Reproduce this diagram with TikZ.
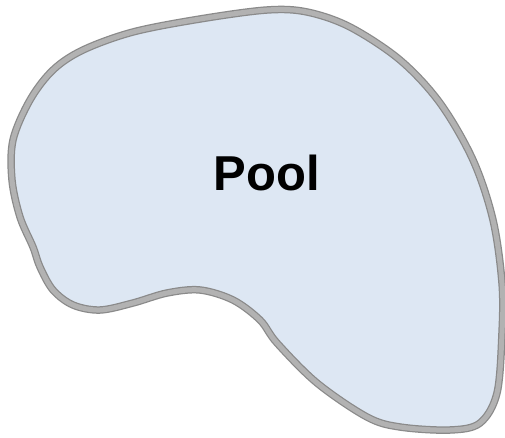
\documentclass[tikz,border=0pt]{standalone}
\usepackage{fontspec}
\setmainfont{Liberation Sans}
\definecolor{poolfill}{HTML}{DDE7F3}
\definecolor{rimdark}{HTML}{8A8A8A}
\definecolor{rimlight}{HTML}{B2B2B2}
\begin{document}
\begin{tikzpicture}[x=1pt,y=-1pt,
  poolshape/.style={smooth cycle, tension=0.55}]
\useasboundingbox[fill=white] (0,0) rectangle (505,438);
\def\poolpath{plot[poolshape] coordinates {
 (83,50) (133,32) (200,19) (267,10) (307,12) (350,27) (400,60) (440,103)
 (473,160) (493,220) (502,283) (502,333) (497,393) (480,423) (450,430)
 (400,427) (367,417) (317,383) (277,343) (260,320) (233,300) (200,290)
 (167,293) (133,303) (100,310) (73,305) (53,290) (40,267) (33,247)
 (20,217) (12,180) (13,140) (30,100) (53,70)}}
\fill[poolfill] \poolpath;
\draw[rimdark, line width=7.5pt] \poolpath;
\draw[rimlight, line width=5pt] \poolpath;
\node[font=\bfseries\fontsize{49}{49}\selectfont, inner sep=0pt] (label) at (267,173) {Pool};
\end{tikzpicture}
\end{document}
